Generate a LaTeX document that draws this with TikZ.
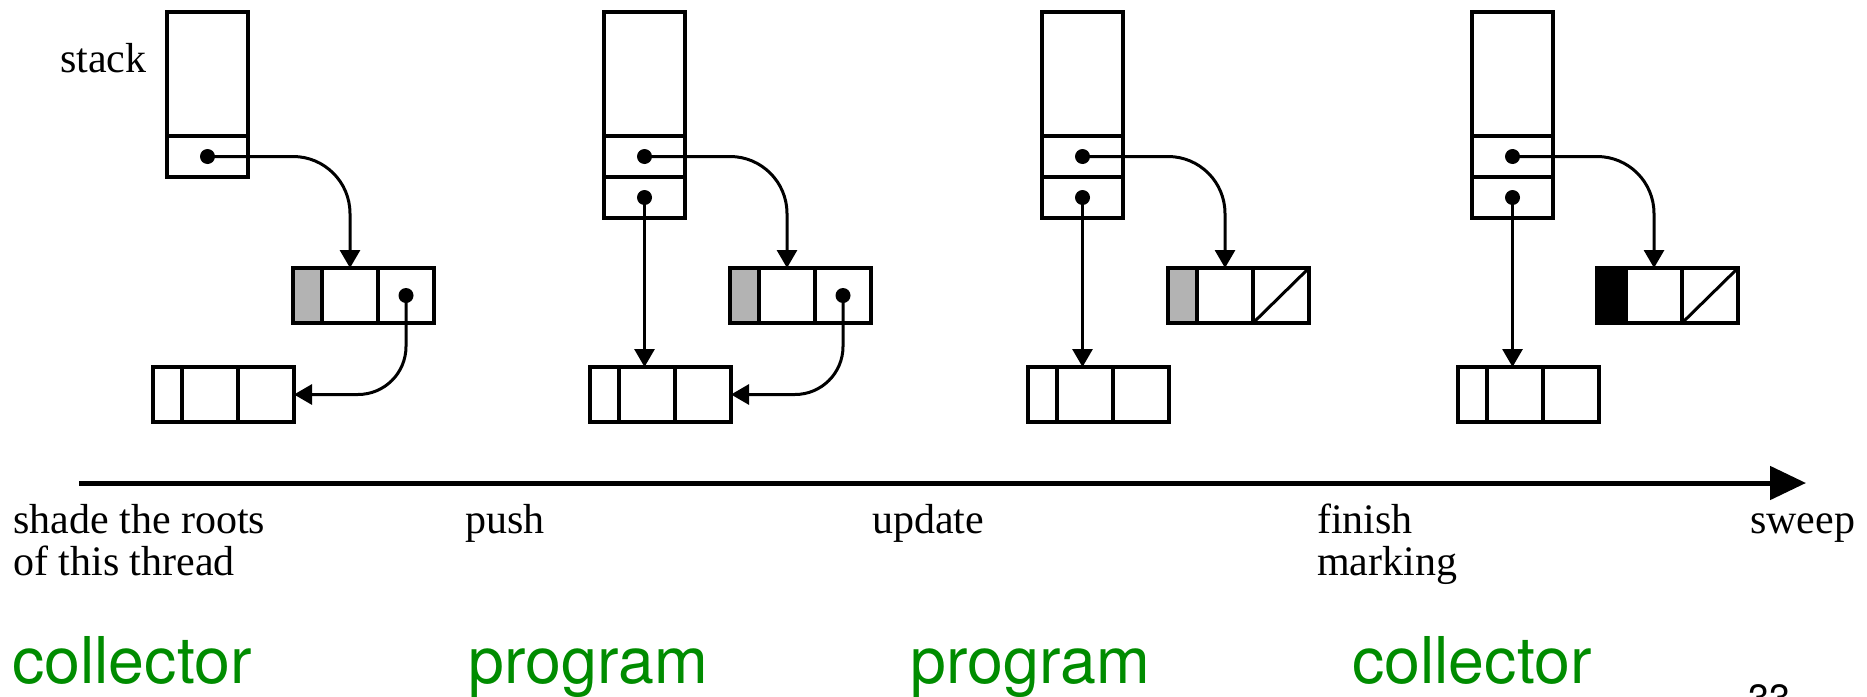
\documentclass[tikz,border=0pt]{standalone}
\usepackage{fontspec}
\setmainfont{Liberation Serif}
\newfontfamily\labelsans{TeX Gyre Heros}
\usetikzlibrary{arrows.meta}
\definecolor{rolegreen}{RGB}{0,140,0}
\definecolor{shadegrey}{RGB}{179,179,179}

\tikzset{
  box/.style={draw, line width=3.5pt, inner sep=0pt, outer sep=0pt, anchor=north west},
  cellnarrow/.style={box, minimum width=29pt, minimum height=55pt},
  cellwide/.style={box, minimum width=56pt, minimum height=55pt},
  slot/.style={box, minimum width=81pt, minimum height=41pt},
  stacktop/.style={box, minimum width=81pt, minimum height=124pt},
  ref/.style={circle, fill, inner sep=0pt, outer sep=0pt, minimum size=15pt},
  ptr/.style={line width=3pt, -{Triangle[length=18pt,width=20pt]}},
  caption/.style={inner sep=0pt, anchor=base west, font=\fontsize{42}{42}\selectfont},
  role/.style={inner sep=0pt, anchor=base west, text=rolegreen,
               font=\labelsans\fontsize{64.5}{64.5}\selectfont},
}

% stack frame: upper part plus one slot holding a reference
\newcommand\stackframe[2]{%
  \node[stacktop] (#1top) at (#2,12) {};
  \node[slot] (#1s1) at (#2,136) {};
  \node[ref] (#1d1) at (#1s1.center) {};
}
% a second stack slot holding a reference
\newcommand\secondslot[2]{%
  \node[slot] (#1s2) at (#2,177) {};
  \node[ref] (#1d2) at (#1s2.center) {};
}
% heap object: colour field followed by two data fields
\newcommand\heaprecord[4]{%
  \node[cellnarrow, fill=#4] (#1a) at (#2,#3) {};
  \node[cellwide] (#1b) at (#1a.north east) {};
  \node[cellwide] (#1c) at (#1b.north east) {};
}

\begin{document}
\begin{tikzpicture}[x=1pt, y=-1pt]
\useasboundingbox (0,0) rectangle (1867,696);

% ---- step 1: shade the roots
\node[caption] (stacklbl) at (60,72) {stack};
\stackframe{p1}{167}
\heaprecord{p1r1}{293}{268}{shadegrey}
\heaprecord{p1r2}{153}{367}{white}
\node[ref] (p1r1dot) at (p1r1c.center) {};
\draw[ptr, rounded corners=57pt] (p1d1.center) -| (p1r1b.north);
\draw[ptr, rounded corners=48pt] (p1r1dot.center) |- (p1r2c.east);

% ---- step 2: push
\stackframe{p2}{604}
\secondslot{p2}{604}
\heaprecord{p2r1}{730}{268}{shadegrey}
\heaprecord{p2r2}{590}{367}{white}
\node[ref] (p2r1dot) at (p2r1c.center) {};
\draw[ptr, rounded corners=57pt] (p2d1.center) -| (p2r1b.north);
\draw[ptr, rounded corners=48pt] (p2r1dot.center) |- (p2r2c.east);
\draw[ptr] (p2d2.center) -- (p2d2.center |- p2r2b.north);

% ---- step 3: update
\stackframe{p3}{1042}
\secondslot{p3}{1042}
\heaprecord{p3r1}{1168}{268}{shadegrey}
\heaprecord{p3r2}{1028}{367}{white}
\draw[line width=3pt] (p3r1c.south west) -- (p3r1c.north east);
\draw[ptr, rounded corners=57pt] (p3d1.center) -| (p3r1b.north);
\draw[ptr] (p3d2.center) -- (p3d2.center |- p3r2b.north);

% ---- step 4: finish marking
\stackframe{p4}{1472}
\secondslot{p4}{1472}
\heaprecord{p4r1}{1597}{268}{black}
\heaprecord{p4r2}{1458}{367}{white}
\draw[line width=3pt] (p4r1c.south west) -- (p4r1c.north east);
\draw[ptr, rounded corners=57pt] (p4d1.center) -| (p4r1b.north);
\draw[ptr] (p4d2.center) -- (p4d2.center |- p4r2b.north);

% ---- time line
\coordinate (t0) at (79,483);
\coordinate (t1) at (1806,483);
\draw[line width=5pt, -{Triangle[length=36pt,width=33pt]}] (t0) -- (t1);

\node[caption] (l1a) at (13,533) {shade the roots};
\node[caption] (l1b) at (13,575) {of this thread};
\node[caption] (l2) at (465,533) {push};
\node[caption] (l3) at (872,533) {update};
\node[caption] (l4a) at (1317,533) {finish};
\node[caption] (l4b) at (1317,575) {marking};
\node[caption] (l5) at (1750,533) {sweep};

\node[role] (r1) at (12,683) {collector};
\node[role] (r2) at (468,683) {program};
\node[role] (r3) at (910,683) {program};
\node[role] (r4) at (1352,683) {collector};

\node[inner sep=0pt, anchor=north west, font=\labelsans\fontsize{38}{38}\selectfont] (pageno) at (1748,684) {33};
\end{tikzpicture}
\end{document}
